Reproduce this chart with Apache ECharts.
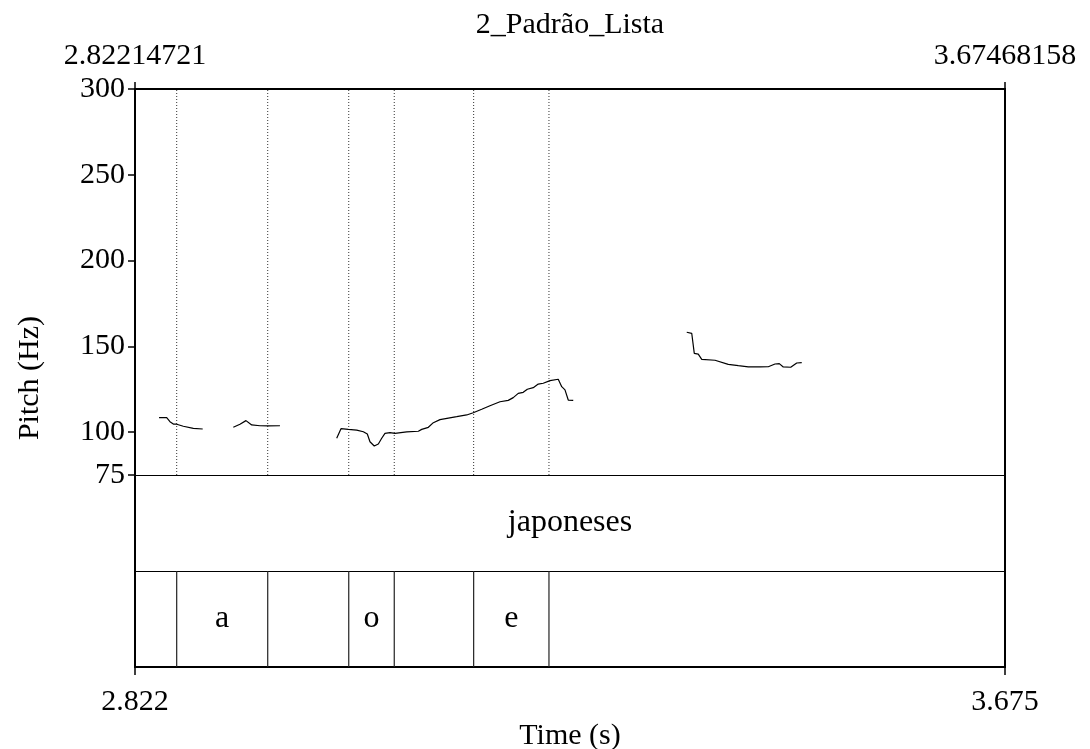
<!DOCTYPE html>
<html>
<head>
<meta charset="utf-8">
<script src="https://cdn.jsdelivr.net/npm/echarts@6/dist/echarts.min.js"></script>
<style>
html,body{margin:0;padding:0;background:#fff;}
#chart{width:1090px;height:749px;}
</style>
</head>
<body>
<div id="chart"></div>
<script>
// ---- data ----
const titleText = '2_Padrão_Lista';
const xMin = 2.82214721;
const xMax = 3.67468158;
const yMin = 75;
const yMax = 300;
const yTickValues = [75, 100, 150, 200, 250, 300];

// pitch contour (time s, Hz); null separates voiced stretches
const pitchTime = [
  2.8457, 2.8532, 2.8564, 2.8597, 2.8630, 2.8695, 2.8793, 2.8885, null,
  2.9185, 2.9250, 2.9309, 2.9365, 2.9446, 2.9528, 2.9642, null,
  3.0198, 3.0240, 3.0312, 3.0394, 3.0459, 3.0498, 3.0524, 3.0566, 3.0606, 3.0639,
  3.0671, 3.0720, 3.0769, 3.0884, 3.0998, 3.1031, 3.1096, 3.1145, 3.1210, 3.1292,
  3.1374, 3.1472, 3.1536, 3.1619, 3.1700, 3.1798, 3.1879, 3.1928, 3.1977, 3.2026,
  3.2066, 3.2124, 3.2173, 3.2222, 3.2288, 3.2369, 3.2403, 3.2435, 3.2467, 3.2516, null,
  3.3628, 3.3677, 3.3702, 3.3741, 3.3775, 3.3905, 3.4035, 3.4133, 3.4231, 3.4346,
  3.4427, 3.4493, 3.4535, 3.4574, 3.4647, 3.4706, 3.4755
];
const pitchHz = [
  108.4, 108.4, 106.1, 104.7, 104.6, 103.4, 102.2, 101.8, null,
  102.8, 104.6, 106.7, 104.2, 103.7, 103.6, 103.7, null,
  96.4, 102.0, 101.6, 101.2, 100.2, 98.9, 94.4, 91.9, 93.1, 96.4,
  99.3, 99.7, 99.3, 100.1, 100.5, 101.6, 102.8, 105.5, 107.3, 108.2,
  109.0, 110.0, 111.3, 113.3, 115.4, 117.7, 118.5, 120.1, 122.6, 123.2,
  125.0, 125.9, 128.0, 128.5, 130.0, 130.8, 126.5, 124.6, 118.7, 118.5, null,
  158.2, 157.6, 145.9, 145.5, 142.4, 141.9, 139.5, 138.7, 138.0, 138.0,
  138.1, 139.7, 139.9, 138.0, 137.8, 140.3, 140.5
];

// TextGrid: word tier (upper) and phone tier (lower)
const wordStarts = [xMin];
const wordEnds = [xMax];
const wordTexts = ['japoneses'];

const phoneBoundaries = [2.8630, 2.9522, 3.0316, 3.0762, 3.1540, 3.2278];
const phoneTexts = ['', 'a', '', 'o', '', 'e', ''];

// ---- build ----
const FONT = 'Liberation Serif';
const pitchData = pitchTime.map((t, i) => (t === null ? [null, null] : [t, pitchHz[i]]));

const phoneEdges = [xMin].concat(phoneBoundaries, [xMax]);
const phoneLabelData = [];
for (let i = 0; i < phoneTexts.length; i++) {
  if (phoneTexts[i]) {
    phoneLabelData.push({ value: [(phoneEdges[i] + phoneEdges[i + 1]) / 2, 0.5], name: phoneTexts[i] });
  }
}
const wordLabelData = wordTexts.map((w, i) => ({ value: [(wordStarts[i] + wordEnds[i]) / 2, 1.5], name: w }));

const chart = echarts.init(document.getElementById('chart'), null, { renderer: 'canvas' });
const textBase = { fontFamily: FONT, fontSize: 30, color: '#000' };

function vLine(yFrom, yTo, style) {
  return (params, api) => {
    const p0 = api.coord([api.value(0), yFrom]);
    const p1 = api.coord([api.value(0), yTo]);
    return { type: 'line', shape: { x1: p0[0], y1: p0[1], x2: p1[0], y2: p1[1] }, style: style };
  };
}

chart.setOption({
  animation: false,
  backgroundColor: '#fff',
  grid: [
    { left: 135, top: 89, width: 870, height: 386, show: false, containLabel: false, outerBoundsMode: 'none' },
    { left: 135, top: 475, width: 870, height: 192, show: false, containLabel: false, outerBoundsMode: 'none' },
    { left: 135, top: 89, width: 870, height: 578, show: true, borderColor: '#000', borderWidth: 2, backgroundColor: 'transparent', containLabel: false, outerBoundsMode: 'none' }
  ],
  xAxis: [
    { gridIndex: 0, type: 'value', min: xMin, max: xMax, axisLine: { show: false }, axisTick: { show: false }, axisLabel: { show: false }, splitLine: { show: false } },
    { gridIndex: 1, type: 'value', min: xMin, max: xMax, position: 'bottom',
      axisLine: { show: false },
      axisTick: { show: true, customValues: [xMin, xMax], length: 8, inside: false, lineStyle: { color: '#000', width: 1.5 } },
      axisLabel: { show: true, customValues: [xMin, xMax], formatter: v => v.toFixed(3), margin: 20, ...textBase },
      splitLine: { show: false },
      name: 'Time (s)', nameLocation: 'middle', nameGap: 54, nameMoveOverlap: false, nameTextStyle: textBase },
    { gridIndex: 0, type: 'value', min: xMin, max: xMax, position: 'top',
      axisLine: { show: false },
      axisTick: { show: true, customValues: [xMin, xMax], length: 7, inside: false, lineStyle: { color: '#000', width: 1.5 } },
      axisLabel: { show: true, customValues: [xMin, xMax], formatter: v => v.toFixed(8), margin: 18, ...textBase },
      splitLine: { show: false },
      name: titleText, nameLocation: 'middle', nameGap: 49, nameMoveOverlap: false, nameTextStyle: textBase },
    { gridIndex: 2, type: 'value', min: 0, max: 1, show: false }
  ],
  yAxis: [
    { gridIndex: 0, type: 'value', min: yMin, max: yMax,
      axisLine: { show: false },
      axisTick: { show: true, customValues: yTickValues, length: 7, inside: false, lineStyle: { color: '#000', width: 1.5 } },
      axisLabel: { show: true, customValues: yTickValues, margin: 10, ...textBase },
      splitLine: { show: false } },
    { gridIndex: 1, type: 'value', min: 0, max: 2, interval: 1,
      axisLine: { show: false }, axisTick: { show: false }, axisLabel: { show: false },
      splitLine: { show: true, lineStyle: { color: '#000', width: 1 } } },
    { gridIndex: 2, type: 'value', min: 0, max: 1,
      axisLine: { show: false }, axisTick: { show: false }, axisLabel: { show: false }, splitLine: { show: false },
      name: 'Pitch (Hz)', nameLocation: 'middle', nameGap: 90, nameRotate: 90, nameTextStyle: textBase }
  ],
  series: [
    {
      type: 'custom', xAxisIndex: 0, yAxisIndex: 0, silent: true, z: 1,
      data: phoneBoundaries.map(b => [b]),
      renderItem: vLine(yMin, yMax, { stroke: '#333', lineWidth: 1, lineDash: [1, 2] })
    },
    {
      type: 'line', xAxisIndex: 0, yAxisIndex: 0, data: pitchData, showSymbol: false, symbol: 'none',
      connectNulls: false, lineStyle: { color: '#000', width: 1.2 }, z: 5
    },
    {
      type: 'custom', xAxisIndex: 1, yAxisIndex: 1, silent: true,
      data: phoneBoundaries.map(b => [b]),
      renderItem: vLine(0, 1, { stroke: '#222', lineWidth: 1.2 })
    },
    {
      type: 'scatter', xAxisIndex: 1, yAxisIndex: 1, symbolSize: 0, silent: true,
      itemStyle: { opacity: 1 },
      data: phoneLabelData.concat(wordLabelData),
      label: { show: true, position: 'inside', formatter: p => p.name, fontFamily: FONT, fontSize: 32, color: '#000' }
    }
  ]
});
</script>
</body>
</html>
